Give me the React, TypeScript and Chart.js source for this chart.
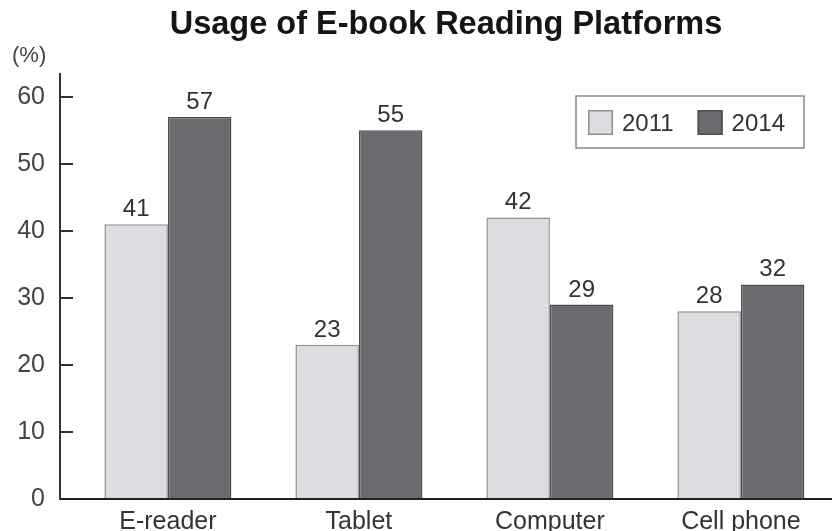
import { useEffect, useRef } from 'react';
import { Chart, registerables } from 'chart.js';

Chart.register(...registerables);

const categories = ['E-reader', 'Tablet', 'Computer', 'Cell phone'];
const seriesNames = ['2011', '2014'];
const values2011 = [41, 23, 42, 28];
const values2014 = [57, 55, 29, 32];
const yTicks = [0, 10, 20, 30, 40, 50, 60];
const titleText = 'Usage of E-book Reading Platforms';
const unitText = '(%)';

const FONT = "'Liberation Sans', Arial, Helvetica, sans-serif";
const fills = ['#dcdde0', '#6a6b6f'];
const borders = ['#8e8f92', '#4b4c50'];

const valueLabels = {
  id: 'valueLabels',
  afterDatasetsDraw(chart: any) {
    const ctx = chart.ctx;
    ctx.save();
    ctx.font = `24px ${FONT}`;
    ctx.fillStyle = '#333';
    ctx.textAlign = 'center';
    ctx.textBaseline = 'alphabetic';
    chart.data.datasets.forEach((ds: any, di: number) => {
      chart.getDatasetMeta(di).data.forEach((el: any, i: number) => {
        const v = ds.data[i].y;
        ctx.fillText(String(v), el.x, el.y - 8);
      });
    });
    ctx.restore();
  },
};

const boxLegend = {
  id: 'boxLegend',
  afterDraw(chart: any) {
    const { ctx, chartArea } = chart;
    const datasets = chart.data.datasets;
    ctx.save();
    ctx.font = `24px ${FONT}`;
    const sw = 25;
    const gapText = 9;
    const gapItem = 24;
    const padL = 12;
    const padR = 19;
    const widths = datasets.map((ds: any) => ctx.measureText(ds.label).width);
    let total = padL + padR + gapItem * (datasets.length - 1);
    widths.forEach((w: number) => (total += sw + gapText + w));
    const right = chartArea.right - 28;
    const top = chartArea.top + 22;
    const left = right - total;
    const h = 52;
    ctx.fillStyle = '#fff';
    ctx.fillRect(left, top, total, h);
    ctx.strokeStyle = '#8a8a8a';
    ctx.lineWidth = 1.5;
    ctx.strokeRect(left, top, total, h);
    let x = left + padL;
    datasets.forEach((ds: any, i: number) => {
      ctx.fillStyle = ds.backgroundColor;
      ctx.fillRect(x, top + 14, sw, sw);
      ctx.strokeStyle = ds.borderColor;
      ctx.lineWidth = 1.5;
      ctx.strokeRect(x + 0.75, top + 14.75, sw - 1.5, sw - 1.5);
      ctx.fillStyle = '#333';
      ctx.textAlign = 'left';
      ctx.textBaseline = 'alphabetic';
      ctx.fillText(ds.label, x + sw + gapText, top + 35);
      x += sw + gapText + widths[i] + gapItem;
    });
    ctx.restore();
  },
};

const unitLabel = {
  id: 'unitLabel',
  afterDraw(chart: any) {
    const { ctx, chartArea } = chart;
    ctx.save();
    ctx.font = `22px ${FONT}`;
    ctx.fillStyle = '#444';
    ctx.textAlign = 'left';
    ctx.textBaseline = 'alphabetic';
    ctx.fillText(unitText, chartArea.left - 48, chartArea.top - 12);
    ctx.restore();
  },
};

export default function App() {
  const ref = useRef<HTMLCanvasElement>(null);

  useEffect(() => {
    if (!ref.current) return;
    const chart = new Chart(ref.current, {
      type: 'bar',
      data: {
        datasets: [
          {
            label: seriesNames[0],
            data: categories.map((_, i) => ({ x: i, y: values2011[i] })),
            backgroundColor: fills[0],
            borderColor: borders[0],
            borderWidth: 1.5,
            borderSkipped: 'bottom',
          },
          {
            label: seriesNames[1],
            data: categories.map((_, i) => ({ x: i, y: values2014[i] })),
            backgroundColor: fills[1],
            borderColor: borders[1],
            borderWidth: 1.5,
            borderSkipped: 'bottom',
          },
        ],
      } as any,
      options: {
        responsive: false,
        animation: false,
        layout: { padding: 0 },
        datasets: { bar: { categoryPercentage: 127 / 191, barPercentage: 1 } } as any,
        plugins: {
          legend: { display: false },
          tooltip: { enabled: false },
          title: {
            display: true,
            text: titleText,
            fullSize: false,
            color: '#151515',
            font: { family: FONT, size: 32.5, weight: 'bold' },
            padding: { top: 6, bottom: 29 },
          },
        },
        scales: {
          x: {
            type: 'linear',
            min: -0.565,
            max: 3.477,
            offset: false,
            afterBuildTicks: (s: any) => {
              s.ticks = categories.map((_, i) => ({ value: i }));
            },
            afterFit: (s: any) => {
              s.height = 32;
              s.paddingLeft = 0;
              s.paddingRight = 0;
            },
            ticks: {
              callback: (v: any) => categories[v as number] ?? '',
              font: { family: FONT, size: 25 },
              color: '#333',
              padding: 8,
              maxRotation: 0,
              autoSkip: false,
            },
            grid: { display: false, drawTicks: false },
            border: { display: true, color: '#222', width: 2 },
          },
          y: {
            min: 0,
            max: 63.4,
            afterBuildTicks: (s: any) => {
              s.ticks = yTicks.map((v) => ({ value: v }));
            },
            afterFit: (s: any) => {
              s.width = 60;
              s.paddingTop = 0;
              s.paddingBottom = 0;
            },
            ticks: {
              font: { family: FONT, size: 25 },
              color: '#444',
              padding: 28,
            },
            grid: {
              display: true,
              drawOnChartArea: false,
              drawTicks: true,
              tickLength: -13,
              color: '#333',
              lineWidth: 2,
            },
            border: { display: true, color: '#333', width: 2 },
          },
        } as any,
      },
      plugins: [valueLabels, boxLegend, unitLabel],
    });
    return () => chart.destroy();
  }, []);

  return (
    <div style={{ position: 'absolute', left: 0, top: 0, width: 832, height: 531, background: '#fff' }}>
      <canvas ref={ref} width={832} height={531} style={{ display: 'block' }} />
    </div>
  );
}
